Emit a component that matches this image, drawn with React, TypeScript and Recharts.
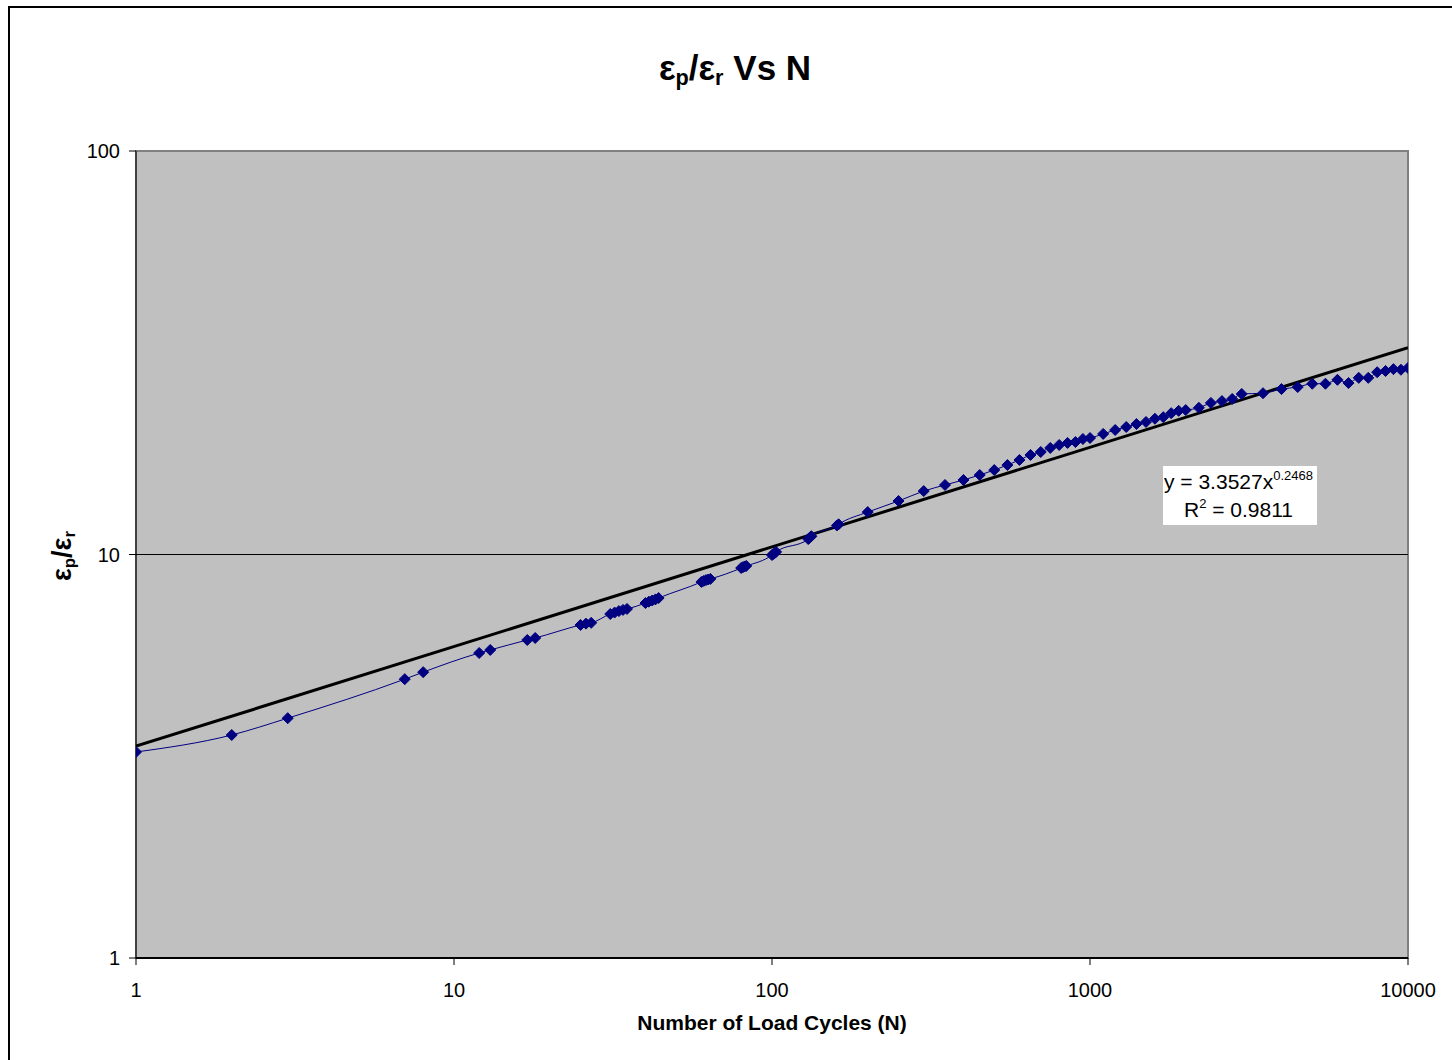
import {
  ComposedChart,
  Line,
  XAxis,
  YAxis,
  ReferenceArea,
  ReferenceLine,
} from 'recharts';

const cycles = [
  1, 2, 3, 7, 8, 12, 13, 17, 18, 25, 26, 27, 31, 32, 33, 34, 35, 40, 41, 42, 43, 44,
  60, 61, 62, 63, 64, 80, 81, 82, 83, 100, 101, 102, 103, 130, 131, 132, 133, 160, 162,
  200, 250, 300, 350, 400, 450, 500, 550, 600, 650, 700, 750, 800, 850, 900, 950, 1000,
  1100, 1200, 1300, 1400, 1500, 1600, 1700, 1800, 1900, 2000, 2200, 2400, 2600, 2800,
  3000, 3500, 4000, 4500, 5000, 5500, 6000, 6500, 7000, 7500, 8000, 8500, 9000, 9500, 10000,
];
const strainRatio = [
  3.24, 3.57, 3.93, 4.91, 5.11, 5.7, 5.8, 6.14, 6.21, 6.69, 6.74, 6.77, 7.12, 7.18, 7.24,
  7.29, 7.33, 7.58, 7.64, 7.69, 7.74, 7.8, 8.55, 8.6, 8.64, 8.67, 8.7, 9.26, 9.3, 9.34,
  9.37, 9.97, 10.03, 10.09, 10.15, 10.92, 10.98, 11.04, 11.1, 11.8, 11.88, 12.74, 13.57,
  14.36, 14.87, 15.3, 15.74, 16.19, 16.66, 17.15, 17.65, 17.95, 18.37, 18.68, 18.9, 19.0,
  19.33, 19.44, 19.9, 20.35, 20.7, 21.05, 21.3, 21.7, 21.9, 22.4, 22.7, 22.8, 23.1, 23.75,
  24.0, 24.3, 25.0, 25.1, 25.7, 26.0, 26.5, 26.5, 27.1, 26.6, 27.4, 27.4, 28.3, 28.5, 28.8,
  28.7, 29.0,
];

// power trend line end points (straight on log-log axes)
const trendN = [1, 10000];
const trendY = [3.35, 32.55];

const xTicks = [1, 10, 100, 1000, 10000];
const yTicks = [1, 10, 100];

const measured = cycles.map((n, i) => ({ n, v: strainRatio[i] }));
const trend = trendN.map((n, i) => ({ n, t: trendY[i] }));

const FONT = '"Liberation Sans", Arial, sans-serif';

function Diamond(props: { cx?: number; cy?: number }) {
  const { cx, cy } = props;
  if (cx == null || cy == null) return null;
  const r = 5.5;
  return (
    <polygon
      points={`${cx},${cy - r} ${cx + r},${cy} ${cx},${cy + r} ${cx - r},${cy}`}
      fill="#000080"
      stroke="#000080"
    />
  );
}

const sub = { fontSize: '0.62em', verticalAlign: '-0.25em' } as const;
const sup = { fontSize: 13, position: 'relative', top: -9, lineHeight: 0 } as const;

export default function App() {
  return (
    <div
      style={{
        position: 'absolute',
        left: 0,
        top: 0,
        width: 1452,
        height: 1060,
        overflow: 'hidden',
        background: '#fff',
        fontFamily: FONT,
      }}
    >
      <div
        style={{
          position: 'absolute',
          left: 8,
          top: 6,
          width: 1500,
          height: 1100,
          borderTop: '2px solid #000',
          borderLeft: '2px solid #000',
        }}
      />
      <div
        style={{
          position: 'absolute',
          left: 435,
          width: 600,
          top: 50,
          textAlign: 'center',
          fontWeight: 'bold',
          fontSize: 35,
          lineHeight: 1,
        }}
      >
        ε<span style={sub}>p</span>/ε<span style={sub}>r</span> Vs N
      </div>
      <div
        style={{
          position: 'absolute',
          left: 62 - 60,
          top: 556 - 16,
          width: 120,
          height: 32,
          lineHeight: '32px',
          textAlign: 'center',
          fontWeight: 'bold',
          fontSize: 27,
          transform: 'rotate(-90deg)',
        }}
      >
        ε<span style={sub}>p</span>/ε<span style={sub}>r</span>
      </div>
      <ComposedChart
        width={1452}
        height={1060}
        margin={{ top: 151, right: 44, bottom: 72, left: 76 }}
        style={{ position: 'absolute', left: 0, top: 0 }}
      >
        <XAxis
          dataKey="n"
          type="number"
          scale="log"
          domain={[1, 10000]}
          ticks={xTicks}
          allowDataOverflow
          height={30}
          axisLine={{ stroke: '#000', strokeWidth: 2 }}
          tickLine={{ stroke: '#000' }}
          tickSize={7}
          tickMargin={18}
          tick={{ fill: '#000', fontSize: 20, fontFamily: FONT }}
          label={{
            value: 'Number of Load Cycles (N)',
            position: 'insideBottom',
            offset: -42,
            style: { fill: '#000', fontSize: 21, fontWeight: 'bold', fontFamily: FONT },
          }}
        />
        <YAxis
          type="number"
          scale="log"
          domain={[1, 100]}
          ticks={yTicks}
          allowDataOverflow
          width={60}
          axisLine={{ stroke: '#000' }}
          tickLine={{ stroke: '#000' }}
          tickSize={7}
          tickMargin={9}
          tick={{ fill: '#000', fontSize: 20, fontFamily: FONT }}
        />
        <ReferenceArea
          x1={1}
          x2={10000}
          y1={1}
          y2={100}
          fill="#C0C0C0"
          fillOpacity={1}
          stroke="#808080"
          strokeWidth={2}
        />
        <ReferenceLine y={10} stroke="#000" strokeWidth={1} />
        <Line
          data={trend}
          dataKey="t"
          type="linear"
          stroke="#000"
          strokeWidth={3}
          dot={false}
          isAnimationActive={false}
        />
        <Line
          data={measured}
          dataKey="v"
          type="monotone"
          stroke="#000080"
          strokeWidth={1}
          dot={<Diamond />}
          isAnimationActive={false}
        />
      </ComposedChart>
      <div
        style={{
          position: 'absolute',
          left: 1163,
          top: 466,
          width: 154,
          height: 59,
          background: '#fff',
          fontSize: 21,
          lineHeight: '28px',
          color: '#000',
          paddingTop: 2,
          boxSizing: 'border-box',
        }}
      >
        <div style={{ paddingLeft: 1, whiteSpace: 'nowrap' }}>
          y = 3.3527x<span style={sup}>0.2468</span>
        </div>
        <div style={{ paddingLeft: 21, whiteSpace: 'nowrap' }}>
          R<span style={sup}>2</span> = 0.9811
        </div>
      </div>
    </div>
  );
}
